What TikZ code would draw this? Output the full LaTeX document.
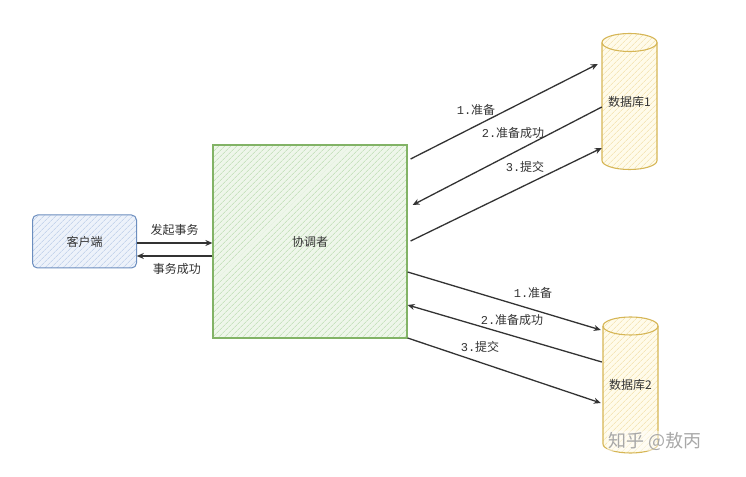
\documentclass[tikz,border=0pt]{standalone}
\usepackage{fontspec}
\setmainfont{Noto Sans CJK SC}
\newfontfamily\monof{Liberation Mono}
\usetikzlibrary{patterns.meta,backgrounds,arrows.meta}
\definecolor{txt}{HTML}{333333}
\definecolor{bluefill}{HTML}{EDF2FA}
\definecolor{blueline}{HTML}{6C8EBF}
\definecolor{bluehatch}{HTML}{B2C6E6}
\definecolor{greenfill}{HTML}{EEF6EA}
\definecolor{greenline}{HTML}{82B366}
\definecolor{greenhatch}{HTML}{B5D8A8}
\definecolor{yelfill}{HTML}{FFFBEA}
\definecolor{yelline}{HTML}{D6B656}
\definecolor{yelhatch}{HTML}{F0DCA0}
\definecolor{wm}{HTML}{A8A8A8}
\tikzset{
  x=1pt, y=1pt,
  every node/.style={text=txt, font=\fontsize{12}{14}\selectfont},
  clientbox/.style={draw=blueline, line width=1pt, rounded corners=5pt,
    minimum width=104pt, minimum height=53pt,
    preaction={fill=bluefill},
    pattern={Lines[angle=45,distance=4pt,line width=0.6pt]}, pattern color=bluehatch},
  coordbox/.style={draw=greenline, line width=1.2pt,
    minimum width=194pt, minimum height=193pt,
    preaction={fill=greenfill},
    pattern={Lines[angle=45,distance=4pt,line width=0.6pt]}, pattern color=greenhatch},
  dbnode/.style={minimum width=55pt, minimum height=136pt, inner sep=0pt},
  dbfillstyle/.style={preaction={fill=yelfill},
    pattern={Lines[angle=45,distance=4pt,line width=0.6pt]}, pattern color=yelhatch},
  dbline/.style={draw=yelline, line width=1.1pt},
  conn/.style={draw=txt, line width=1.3pt, -{Stealth[length=7pt,width=6pt]}},
  lbl/.style={inner sep=1pt},
}
\newcommand\cylbody{%
  (-27.5,59) -- (-27.5,-59) arc[start angle=180,end angle=360,x radius=27.5,y radius=9]
  -- (27.5,59) arc[start angle=0,end angle=180,x radius=27.5,y radius=9] -- cycle}
\begin{document}
\begin{tikzpicture}
\useasboundingbox (0,0) rectangle (746,476);
\begin{scope}[on background layer]
  \fill[white] (0,0) rectangle (746,476);
\end{scope}

\node[clientbox] (client) at (84.5,234.5) {客户端};
\node[coordbox] (coord) at (310,234.5) {协调者};
\node[dbnode] (db1) at (629.5,374.5) {数据库1};
\node[dbnode] (db2) at (630.5,91) {数据库2};

\begin{scope}[on background layer, shift={(db1.center)}]
  \path[dbfillstyle] \cylbody;
  \path[dbline] \cylbody;
  \draw[dbline] (-27.5,59) arc[start angle=180,end angle=360,x radius=27.5,y radius=9];
\end{scope}
\begin{scope}[on background layer, shift={(db2.center)}]
  \path[dbfillstyle] \cylbody;
  \path[dbline] \cylbody;
  \draw[dbline] (-27.5,59) arc[start angle=180,end angle=360,x radius=27.5,y radius=9];
\end{scope}

% client <-> coordinator
\draw[conn] ([yshift=-1.5pt]client.east) -- ([yshift=-1.5pt]coord.west)
  node[lbl, pos=0.5, above=6pt] {发起事务};
\draw[conn] ([yshift=-14.5pt]coord.west) -- ([yshift=-14.5pt]client.east)
  node[lbl, pos=0.47, below=6pt] {事务成功};

% coordinator <-> db1
\draw[conn] ([xshift=3pt,yshift=82.5pt]coord.east) -- ([xshift=-4pt,yshift=37.5pt]db1.west);
\draw[conn] ([yshift=-5.5pt]db1.west) -- ([xshift=5pt,yshift=36.5pt]coord.east);
\draw[conn] ([xshift=3pt,yshift=0.5pt]coord.east) -- ([xshift=0pt,yshift=-46.5pt]db1.west);

% coordinator <-> db2
\draw[conn] ([yshift=-30.5pt]coord.east) -- ([xshift=-2pt,yshift=55pt]db2.west);
\draw[conn] ([xshift=-1pt,yshift=23pt]db2.west) -- ([yshift=-63.5pt]coord.east);
\draw[conn] ([yshift=-96.5pt]coord.east) -- ([xshift=-2pt,yshift=-18pt]db2.west);

% edge labels
\node[lbl] (l1a) at (476,366) {{\monof 1.}准备};
\node[lbl] (l2a) at (513,343) {{\monof 2.}准备成功};
\node[lbl] (l3a) at (525,309) {{\monof 3.}提交};
\node[lbl] (l1b) at (533,183) {{\monof 1.}准备};
\node[lbl] (l2b) at (512,156) {{\monof 2.}准备成功};
\node[lbl] (l3b) at (480,129) {{\monof 3.}提交};

% watermark
\node[text=wm, font=\fontsize{18}{20}\selectfont, fill=white, fill opacity=0.45, text opacity=1, inner sep=1pt] (wmk) at (655,35) {知乎 @敖丙};
\end{tikzpicture}
\end{document}
